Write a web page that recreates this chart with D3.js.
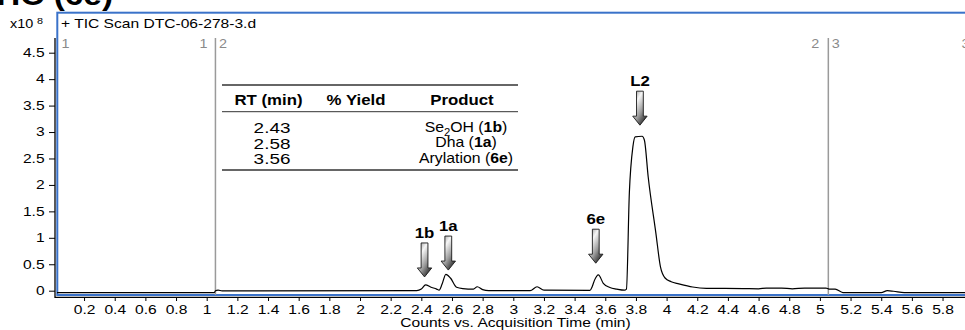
<!DOCTYPE html>
<html><head><meta charset="utf-8">
<script src="https://cdn.jsdelivr.net/npm/d3@7"></script>
<style>
html,body{margin:0;padding:0;background:#fff;overflow:hidden}
svg{display:block}
text{font-family:"Liberation Sans",Arial,Helvetica,sans-serif}
</style></head>
<body>
<svg id="chart" width="965" height="330"></svg>
<script>
// ---- data ----
const rtTimes = [0.01, 1.05, 1.057, 1.074, 1.10, 2.37, 2.40, 2.428, 2.46, 2.50, 2.516, 2.535, 2.56, 2.59, 2.63, 2.67, 2.74, 2.765, 2.80, 2.84, 3.11, 3.155, 3.20, 3.50, 3.515, 3.53, 3.555, 3.587, 3.63, 3.675, 3.725, 3.738, 3.757, 3.78, 3.795, 3.84, 3.855, 3.88, 3.93, 3.96, 3.99, 4.03, 4.08, 4.17, 4.26, 4.50, 4.60, 4.65, 4.75, 4.82, 4.90, 5.04, 5.06, 5.10, 5.15, 5.40, 5.44, 5.48, 5.55, 5.95];
const ticCounts = [-0.035, -0.035, 0.0, 0.012, -0.005, 0.0, 0.03, 0.11, 0.07, 0.03, 0.01, 0.12, 0.31, 0.24, 0.065, 0.04, 0.03, 0.075, 0.02, 0.0, 0.0, 0.075, 0.01, 0.005, 0.08, 0.2, 0.30, 0.14, 0.06, 0.03, 0.01, 0.03, 1.85, 2.72, 2.91, 2.92, 2.85, 2.15, 1.09, 0.45, 0.24, 0.17, 0.13, 0.07, 0.045, 0.04, 0.035, 0.05, 0.05, 0.035, 0.05, 0.05, 0.03, 0.03, -0.035, -0.035, 0.0, -0.01, -0.035, -0.035];
const xTicks = [0.2,0.4,0.6,0.8,1,1.2,1.4,1.6,1.8,2,2.2,2.4,2.6,2.8,3,3.2,3.4,3.6,3.8,4,4.2,4.4,4.6,4.8,5,5.2,5.4,5.6,5.8];
const yTicks = [0,0.5,1,1.5,2,2.5,3,3.5,4,4.5];
const segmentMarks = [1.057, 5.055];
const arrowLabels = ["1b","1a","6e","L2"];
const arrowRT = [2.421, 2.576, 3.538, 3.826];
const arrowTip = [0.26, 0.39, 0.52, 3.13];
const tableHeaders = ["RT (min)","% Yield","Product"];
const tableRT = ["2.43","2.58","3.56"];
const tableProduct = [
  [["Se",""],["2","sub"],["OH (",""],["1b","b"],[")",""]],
  [["Dha (",""],["1a","b"],[")",""]],
  [["Arylation (",""],["6e","b"],[")",""]]
];

// ---- drawing ----
const svg = d3.select("#chart");
const x = d3.scaleLinear().domain([0,6]).range([53.4, 53.4+6*153.3]);
const y = d3.scaleLinear().domain([0,4.5]).range([290.7, 52.7]);
const SX = 1.3;

const defs = svg.append("defs");
defs.append("clipPath").attr("id","plotclip").append("rect")
  .attr("x",57).attr("y",14).attr("width",908).attr("height",280);
const grad = defs.append("linearGradient").attr("id","arrowGrad")
  .attr("x1",0).attr("y1",0).attr("x2",0.7).attr("y2",1);
[[0,"#8a8a8a"],[0.33,"#f6f6f6"],[0.68,"#9a9a9a"],[1,"#2a2a2a"]].forEach(s=>
  grad.append("stop").attr("offset",s[0]).attr("stop-color",s[1]));

function txt(parent, px, py, str, o={}){
  return parent.append("text")
    .attr("transform",`translate(${px},${py}) scale(${o.sx||SX},1)`)
    .attr("text-anchor",o.anchor||"start")
    .attr("font-size",o.size||12)
    .attr("font-weight",o.weight||"normal")
    .attr("fill",o.fill||"#000")
    .attr("font-family",o.family||null)
    .text(str);
}

// title (cut off at top)
txt(svg, 113, 5, "TIC (6e)", {anchor:"end", size:29, weight:"bold", family:"'Liberation Serif','Times New Roman',serif", sx:1.15});

// exponent label
txt(svg, 10, 28, "x10", {size:12, sx:1.2});
txt(svg, 37, 24, "8", {size:9, sx:1.2});

// blue frame
svg.append("rect").attr("x",57.3).attr("y",12.7).attr("width",930).attr("height",282.3)
  .attr("fill","none").attr("stroke","#3a72c9").attr("stroke-width",2);

txt(svg, 61, 28, "+ TIC Scan DTC-06-278-3.d", {size:12});

// segment markers
const mk = svg.append("g");
segmentMarks.forEach(t=>{
  mk.append("line").attr("x1",x(t)).attr("x2",x(t)).attr("y1",38).attr("y2",295)
    .attr("stroke","#9a9a9a").attr("stroke-width",1.5);
});
const segLab = [["1",x(0)+8,"start"],["1",x(segmentMarks[0])-8,"end"],["2",x(segmentMarks[0])+3.5,"start"],
  ["2",x(segmentMarks[1])-9,"end"],["3",x(segmentMarks[1])+3.5,"start"],["3",961.5,"start"]];
segLab.forEach(d=> txt(mk, d[1], 47.5, d[0], {anchor:d[2], fill:"#8a8a8a", size:12, sx:1.2}));

// trace
const line = d3.line().x((d,i)=>x(rtTimes[i])).y(d=>y(d)).curve(d3.curveMonotoneX);
svg.append("path").datum(ticCounts).attr("clip-path","url(#plotclip)")
  .attr("d",line).attr("fill","none").attr("stroke","#000").attr("stroke-width",1.2)
  .attr("stroke-linejoin","round");

// axes
const xa = svg.append("g").attr("transform","translate(0,297)")
  .call(d3.axisBottom(x).tickValues(xTicks).tickSize(4).tickPadding(4)
    .tickFormat(d=> Number.isInteger(d)? String(d) : d.toFixed(1)));
xa.select(".domain").remove();
xa.selectAll(".tick line").attr("stroke","#000");
xa.selectAll(".tick text").attr("font-size",12).attr("font-family",null)
  .attr("transform",`scale(${SX},1)`).attr("fill","#000");
svg.append("line").attr("x1",55).attr("x2",965).attr("y1",297.3).attr("y2",297.3)
  .attr("stroke","#000").attr("stroke-width",1.3);

const ya = svg.append("g").attr("transform","translate(55,0)")
  .call(d3.axisLeft(y).tickValues(yTicks).tickSize(6).tickPadding(2).tickFormat(d=>String(d)));
ya.select(".domain").remove();
ya.selectAll(".tick text").attr("font-size",12).attr("font-family",null)
  .attr("transform",`scale(${SX},1)`).attr("fill","#000");
svg.append("line").attr("x1",55).attr("x2",55).attr("y1",38).attr("y2",298)
  .attr("stroke","#000").attr("stroke-width",1.3);

txt(svg, 515.5, 326.5, "Counts vs. Acquisition Time (min)", {anchor:"middle", size:12});

// arrows
const ARROW_LEN = 34, SHAFT = 3.4, HEAD = 7.2, HEAD_H = 9;
arrowLabels.forEach((lab,i)=>{
  const cx = x(arrowRT[i]), y1 = y(arrowTip[i]), y0 = y1-ARROW_LEN;
  const p = d3.path();
  p.moveTo(cx-SHAFT,y0); p.lineTo(cx+SHAFT,y0); p.lineTo(cx+SHAFT,y1-HEAD_H);
  p.lineTo(cx+HEAD,y1-HEAD_H); p.lineTo(cx,y1); p.lineTo(cx-HEAD,y1-HEAD_H);
  p.lineTo(cx-SHAFT,y1-HEAD_H); p.closePath();
  svg.append("path").attr("d",p.toString()).attr("fill","url(#arrowGrad)")
    .attr("stroke","#1a1a1a").attr("stroke-width",0.9);
  txt(svg, cx, y0-5, lab, {anchor:"middle", size:15, weight:"bold", sx:1.12});
});

// table
const tb = svg.append("g");
[[85,1.3],[111.7,1],[170,1.3]].forEach(d=>
  tb.append("line").attr("x1",222).attr("x2",518).attr("y1",d[0]).attr("y2",d[0])
    .attr("stroke","#333").attr("stroke-width",d[1]));
const colX = [268.5, 356, 462];
tableHeaders.forEach((h,i)=> txt(tb, colX[i], 105, h, {anchor:"middle", size:14, weight:"bold", sx:1.2}));
const rtBase = [133, 148.5, 164];
const prBase = [131.5, 147, 163];
tableRT.forEach((r,i)=> txt(tb, 272, rtBase[i], r, {anchor:"middle", size:14, sx:1.35}));
tableProduct.forEach((parts,i)=>{
  const t = tb.append("text").attr("transform",`translate(466,${prBase[i]}) scale(1.13,1)`)
    .attr("text-anchor","middle").attr("font-size",14);
  parts.forEach(pp=>{
    const ts = t.append("tspan").text(pp[0]);
    if(pp[1]==="b") ts.attr("font-weight","bold");
    if(pp[1]==="sub") ts.attr("font-size",10).attr("dy",4);
    if(pp[1]==="" && pp[0].startsWith("OH")) ts.attr("dy",-4);
  });
});
</script>
</body></html>
